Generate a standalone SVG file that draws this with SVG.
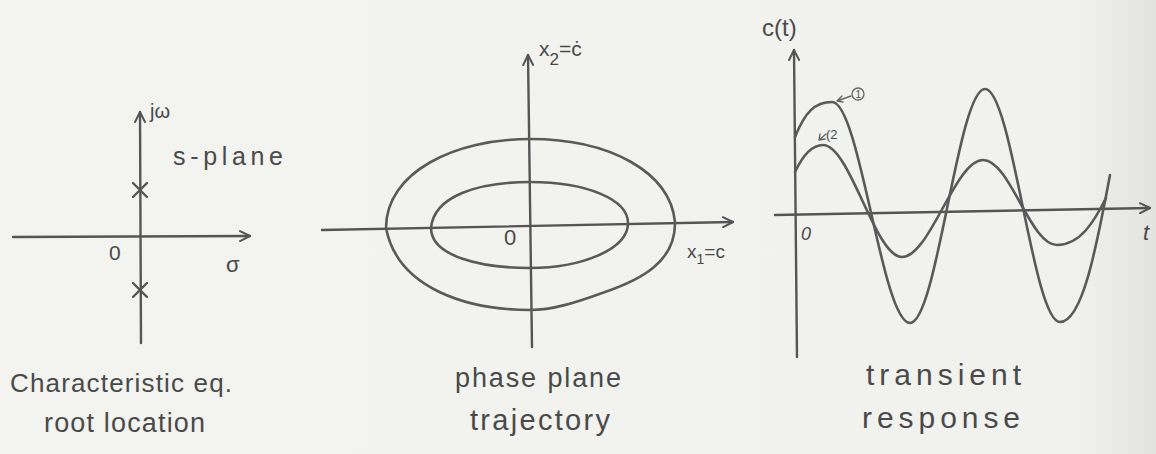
<svg xmlns="http://www.w3.org/2000/svg" width="1156" height="454" viewBox="0 0 1156 454">
  <style>
    .ax { fill: none; stroke: #555; stroke-width: 2.4; stroke-linecap: round; }
    .cv { fill: none; stroke: #5a5a5a; stroke-width: 2.6; stroke-linecap: round; stroke-linejoin: round; }
    .thin { fill: none; stroke: #666; stroke-width: 1.4; stroke-linecap: round; }
    .t { font-family: "Liberation Sans", Arial, sans-serif; fill: #4a4a4a; }
    .cap { font-family: "Liberation Sans", Arial, sans-serif; fill: #4a4a4a; }
  </style>
  <defs>
    <marker id="arr" viewBox="0 0 12 12" refX="11" refY="6" markerWidth="12" markerHeight="12" markerUnits="userSpaceOnUse" orient="auto">
      <path d="M1,1 L11,6 L1,11" fill="none" stroke="#555" stroke-width="2" stroke-linecap="round" stroke-linejoin="round"/>
    </marker>
    <linearGradient id="bg" x1="0" y1="0" x2="1" y2="0">
      <stop offset="0" stop-color="#f3f3ef"/>
      <stop offset="0.93" stop-color="#f1f1ed"/>
      <stop offset="1" stop-color="#e2e2de"/>
    </linearGradient>
  </defs>
  <rect x="0" y="0" width="1156" height="454" fill="url(#bg)"/>

  <!-- Panel 1: s-plane root location -->
  <g id="splane">
    <line class="ax" x1="13" y1="237" x2="250" y2="236" marker-end="url(#arr)"/>
    <line class="ax" x1="141" y1="343" x2="140" y2="112" marker-end="url(#arr)"/>
    <path class="ax" d="M133,183 L147,197 M147,183 L133,197"/>
    <path class="ax" d="M133,283 L147,297 M147,283 L133,297"/>
    <text class="t" x="150" y="118" font-size="20">jω</text>
    <text class="t" x="173" y="165" font-size="25" textLength="110" lengthAdjust="spacing">s-plane</text>
    <text class="t" x="109" y="260" font-size="21">0</text>
    <text class="t" x="226" y="272" font-size="22">σ</text>
  </g>

  <!-- Panel 2: phase plane -->
  <g id="phaseplane">
    <line class="ax" x1="322" y1="230" x2="733" y2="222" marker-end="url(#arr)"/>
    <line class="ax" x1="532" y1="347" x2="528" y2="55" marker-end="url(#arr)"/>
    <path class="cv" d="M386,228 C386,172 455,139 530,139 C610,139 670,172 675,222 C676,262 640,280 605,292 C575,303 552,310 530,310 C470,310 398,290 386,228 Z"/>
    <path class="cv" d="M431,228 C434,196 478,182 530,182 C588,182 628,200 628,223 C628,250 580,268 530,268 C480,268 431,256 431,228 Z"/>
    <text class="t" x="504" y="245" font-size="22">0</text>
    <text class="t" x="539" y="56" font-size="21">x<tspan font-size="17" dy="9">2</tspan><tspan dy="-9">=ċ</tspan></text>
    <text class="t" x="687" y="258" font-size="19">x<tspan font-size="14" dy="6">1</tspan><tspan dy="-6">=c</tspan></text>
  </g>

  <!-- Panel 3: transient response -->
  <g id="transient">
    <line class="ax" x1="775" y1="215" x2="1150" y2="208" marker-end="url(#arr)"/>
    <line class="ax" x1="797" y1="357" x2="794" y2="50" marker-end="url(#arr)"/>
    <path class="cv" d="M795,137 C805,112 815,102 832,102 C860,102 882,323 910,323 C937,323 958,89 985,89 C1012,89 1033,322 1060,322 C1082,322 1096,250 1110,175"/>
    <path class="cv" d="M795,172 C803,155 812,145 823,145 C850,145 875,257 902,257 C930,257 955,160 983,160 C1010,160 1030,245 1057,245 C1080,245 1094,222 1106,198"/>
    <text class="t" x="762" y="36" font-size="24">c(t)</text>
    <text class="t" x="801" y="240" font-size="18" font-style="italic">0</text>
    <text class="t" x="1143" y="240" font-size="22" font-style="italic">t</text>
    <circle cx="858" cy="94" r="6" fill="none" stroke="#666" stroke-width="1.3"/>
    <text class="t" x="855.5" y="98" font-size="10">1</text>
    <path class="thin" d="M851,96 L837,101 M837,101 L842,96 M837,101 L843,102"/>
    <text class="t" x="826" y="139" font-size="13">(2</text>
    <path class="thin" d="M826,134 L819,140 M819,140 L820,134 M819,140 L825,139"/>
  </g>

  <!-- Captions -->
  <g id="captions">
    <text class="cap" x="10" y="392" font-size="26" textLength="222" lengthAdjust="spacing">Characteristic eq.</text>
    <text class="cap" x="44" y="432" font-size="27" textLength="161" lengthAdjust="spacing">root location</text>
    <text class="cap" x="455" y="387" font-size="27" textLength="166" lengthAdjust="spacing">phase plane</text>
    <text class="cap" x="470" y="430" font-size="29" textLength="140" lengthAdjust="spacing">trajectory</text>
    <text class="cap" x="866" y="385" font-size="30" textLength="155" lengthAdjust="spacing">transient</text>
    <text class="cap" x="862" y="428" font-size="30" textLength="158" lengthAdjust="spacing">response</text>
  </g>
</svg>
